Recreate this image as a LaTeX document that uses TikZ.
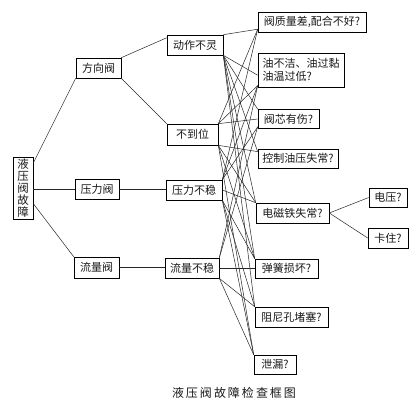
\documentclass[tikz,border=0pt]{standalone}
\usepackage{fontspec}
\newfontfamily\cjk{Noto Sans CJK SC}
\usetikzlibrary{calc}
\begin{document}
\begin{tikzpicture}[x=1pt,y=-1pt,
  box/.style={draw, line width=0.65pt, inner sep=0pt, text=black!90,
    font=\cjk\fontsize{11}{12.5}\selectfont},
  link/.style={line width=0.5pt, black!85}]
\useasboundingbox[fill=white] (0,0) rectangle (420,408);
% root
\node[box, minimum width=20pt, minimum height=62pt, align=center,
  font=\cjk\fontsize{11.5}{11.8}\selectfont] (root) at (23,188) {液\\压\\阀\\故\\障};
% level 1
\node[box, minimum width=45pt, minimum height=20pt] (fxf) at (98.5,68) {方向阀};
\node[box, minimum width=44pt, minimum height=20pt] (ylf) at (97,189) {压力阀};
\node[box, minimum width=45pt, minimum height=21pt] (llf) at (96.5,267.5) {流量阀};
% level 2
\node[box, minimum width=56pt, minimum height=20pt] (dz) at (195,45) {动作不灵};
\node[box, minimum width=51pt, minimum height=21pt] (bd) at (192.5,134.5) {不到位};
\node[box, minimum width=56pt, minimum height=20pt] (ylbw) at (194,190) {压力不稳};
\node[box, minimum width=54pt, minimum height=20pt] (llbw) at (192,268) {流量不稳};
% causes
\node[box, minimum width=108pt, minimum height=20pt] (c1) at (312,22) {阀质量差,配合不好?};
\node[box, minimum width=86pt, minimum height=34pt, align=left] (c2) at (301,70) {油不洁、油过黏\\油温过低?};
\node[box, minimum width=61pt, minimum height=19pt] (c3) at (288.5,119) {阀芯有伤?};
\node[box, minimum width=80pt, minimum height=19pt] (c4) at (298,158.5) {控制油压失常?};
\node[box, minimum width=73pt, minimum height=20pt] (c5) at (292.5,213) {电磁铁失常?};
\node[box, minimum width=63pt, minimum height=19pt] (c6) at (286.5,268.5) {弹簧损坏?};
\node[box, minimum width=73pt, minimum height=20pt] (c7) at (291.5,317) {阻尼孔堵塞?};
\node[box, minimum width=42pt, minimum height=19pt] (c8) at (275,364.5) {泄漏?};
\node[box, minimum width=38pt, minimum height=19pt] (v1) at (388,197.5) {电压?};
\node[box, minimum width=40pt, minimum height=20pt] (v2) at (388,238) {卡住?};
% caption
\node[font=\cjk\fontsize{12}{14}\selectfont, text=black!90, inner sep=0pt] (cap) at (234,393) {液\,压\,阀\,故\,障\,检\,查\,框\,图};
% tree links
\draw[link] ($(root.north east)!0.1!(root.south east)$) -- (fxf.south west);
\draw[link] (ylf.west) -- (ylf.west -| root.east);
\draw[link] ($(root.north east)!0.75!(root.south east)$) -- (llf.north west);
\draw[link] (fxf.north east) -- ($(dz.north west)!0.15!(dz.south west)$);
\draw[link] (fxf.south east) -- (bd.north west);
\draw[link] (ylf.east) -- (ylf.east -| ylbw.west);
\draw[link] (llf.east) -- (llf.east -| llbw.west);
\draw[link] (c5.east) -- (v1.west);
\draw[link] (c5.east) -- (v2.west);
% anchor points
\coordinate (c1a) at ($(c1.south west)!0.15!(c1.north west)$);
\coordinate (c2a) at ($(c2.south west)!0.35!(c2.north west)$);
\coordinate (c2b) at ($(c2.south west)!0.05!(c2.north west)$);
\coordinate (c3b) at ($(c3.south west)!0.1!(c3.north west)$);
\coordinate (c4a) at ($(c4.north west)!0.15!(c4.south west)$);
% 动作不灵
\draw[link] (dz.north east) -- (c1a);
\draw[link] (dz.south east) -- (c2a);
\draw[link] (dz.south east) -- (c3.north west);
\draw[link] (dz.south east) -- (c4a);
\draw[link] (dz.south east) -- (c5.north west);
\draw[link] (dz.south east) -- (c6.north west);
\draw[link] (dz.south east) -- (c7.north west);
% 不到位
\draw[link] (bd.north east) -- (c1a);
\draw[link] (bd.north east) -- (c2b);
\draw[link] (bd.north east) -- (c3.west);
\draw[link] (bd.south east) -- (c4a);
\draw[link] (bd.south east) -- (c5.north west);
\draw[link] (bd.south east) -- (c6.north west);
\draw[link] (bd.south east) -- (c8.north west);
% 压力不稳
\draw[link] (ylbw.north east) -- (c1a);
\draw[link] (ylbw.north east) -- (c2b);
\draw[link] (ylbw.north east) -- (c3b);
\draw[link] (ylbw.east) -- (c5.north west);
\draw[link] (ylbw.south east) -- (c6.north west);
\draw[link] (ylbw.south east) -- (c7.north west);
\draw[link] (ylbw.south east) -- (c8.north west);
% 流量不稳
\draw[link] (llbw.north east) -- (c2b);
\draw[link] (llbw.north east) -- (c3b);
\draw[link] (llbw.east) -- (llbw.east -| c6.west);
\draw[link] (llbw.south east) -- (c7.north west);
\draw[link] (llbw.south east) -- (c8.north west);
\end{tikzpicture}
\end{document}
